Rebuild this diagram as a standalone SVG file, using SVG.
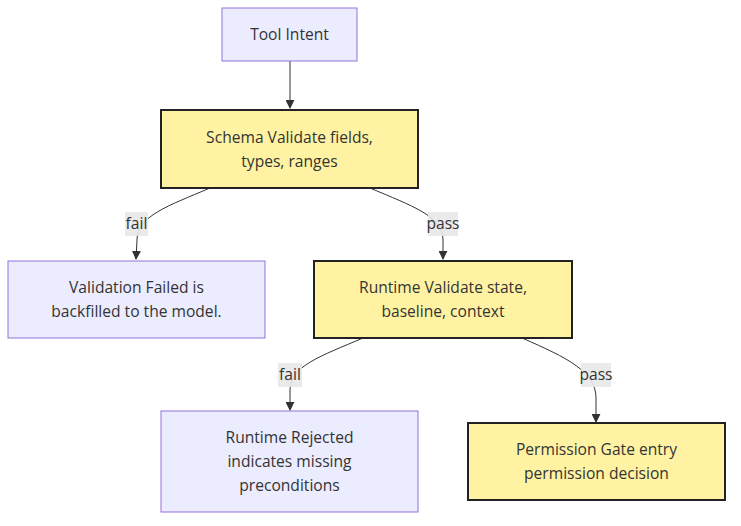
<svg xmlns="http://www.w3.org/2000/svg" width="741" height="526" viewBox="0 0 741 526">
<defs>
<marker id="arrow" viewBox="0 0 10 10" refX="9" refY="5" markerWidth="9" markerHeight="9" markerUnits="userSpaceOnUse" orient="auto">
<path d="M0,0 L10,5 L0,10 z" fill="#333"/>
</marker>
</defs>
<style>
.purple rect{fill:#ECECFF;stroke:#9370DB;stroke-width:1px}
.yellow rect{fill:#FFF3A3;stroke:#222;stroke-width:2px}
text{font-family:"Open Sans","DejaVu Sans",sans-serif;font-size:15.6px;fill:#333;text-anchor:middle}
.edge{fill:none;stroke:#333;stroke-width:1px;marker-end:url(#arrow)}
.lbl rect{fill:#e8e8e8;opacity:0.9}
</style>
<rect width="741" height="526" fill="#fff"/>
<g id="connectors">
<path class="edge" d="M290,61 L290,108"/>
<path class="edge" d="M210,188 C168,206 137,216 137,240 L136,259"/>
<path class="edge" d="M370,188 C412,206 443,216 443,240 L443,259"/>
<path class="edge" d="M363,338 C321,356 290,366 290,390 L290,410"/>
<path class="edge" d="M522,338 C568,358 596,372 596,398 L596,422"/>
<g class="lbl"><rect x="125" y="212" width="23" height="24"/><text x="136.5" y="229">fail</text></g>
<g class="lbl"><rect x="428" y="212" width="30" height="24"/><text x="443" y="229">pass</text></g>
<g class="lbl"><rect x="278" y="363" width="24" height="24"/><text x="290" y="380">fail</text></g>
<g class="lbl"><rect x="581" y="363" width="30" height="24"/><text x="596" y="380">pass</text></g>
</g>
<g id="toolIntent" class="purple"><rect x="222" y="8" width="135" height="53"/><text x="289.5" y="40">Tool Intent</text></g>
<g id="schemaValidate" class="yellow"><rect x="161" y="110" width="257" height="78"/><text x="289.5" y="143">Schema Validate fields,</text><text x="289.5" y="167">types, ranges</text></g>
<g id="validationFailed" class="purple"><rect x="8" y="261" width="257" height="77"/><text x="136.5" y="293">Validation Failed is</text><text x="136.5" y="317">backfilled to the model.</text></g>
<g id="runtimeValidate" class="yellow"><rect x="314" y="261" width="258" height="77"/><text x="443" y="293">Runtime Validate state,</text><text x="443" y="317">baseline, context</text></g>
<g id="runtimeRejected" class="purple"><rect x="161" y="411" width="257" height="101"/><text x="289.5" y="443">Runtime Rejected</text><text x="289.5" y="467">indicates missing</text><text x="289.5" y="491">preconditions</text></g>
<g id="permissionGate" class="yellow"><rect x="468" y="423" width="257" height="77"/><text x="596.5" y="455">Permission Gate entry</text><text x="596.5" y="479">permission decision</text></g>
</svg>
